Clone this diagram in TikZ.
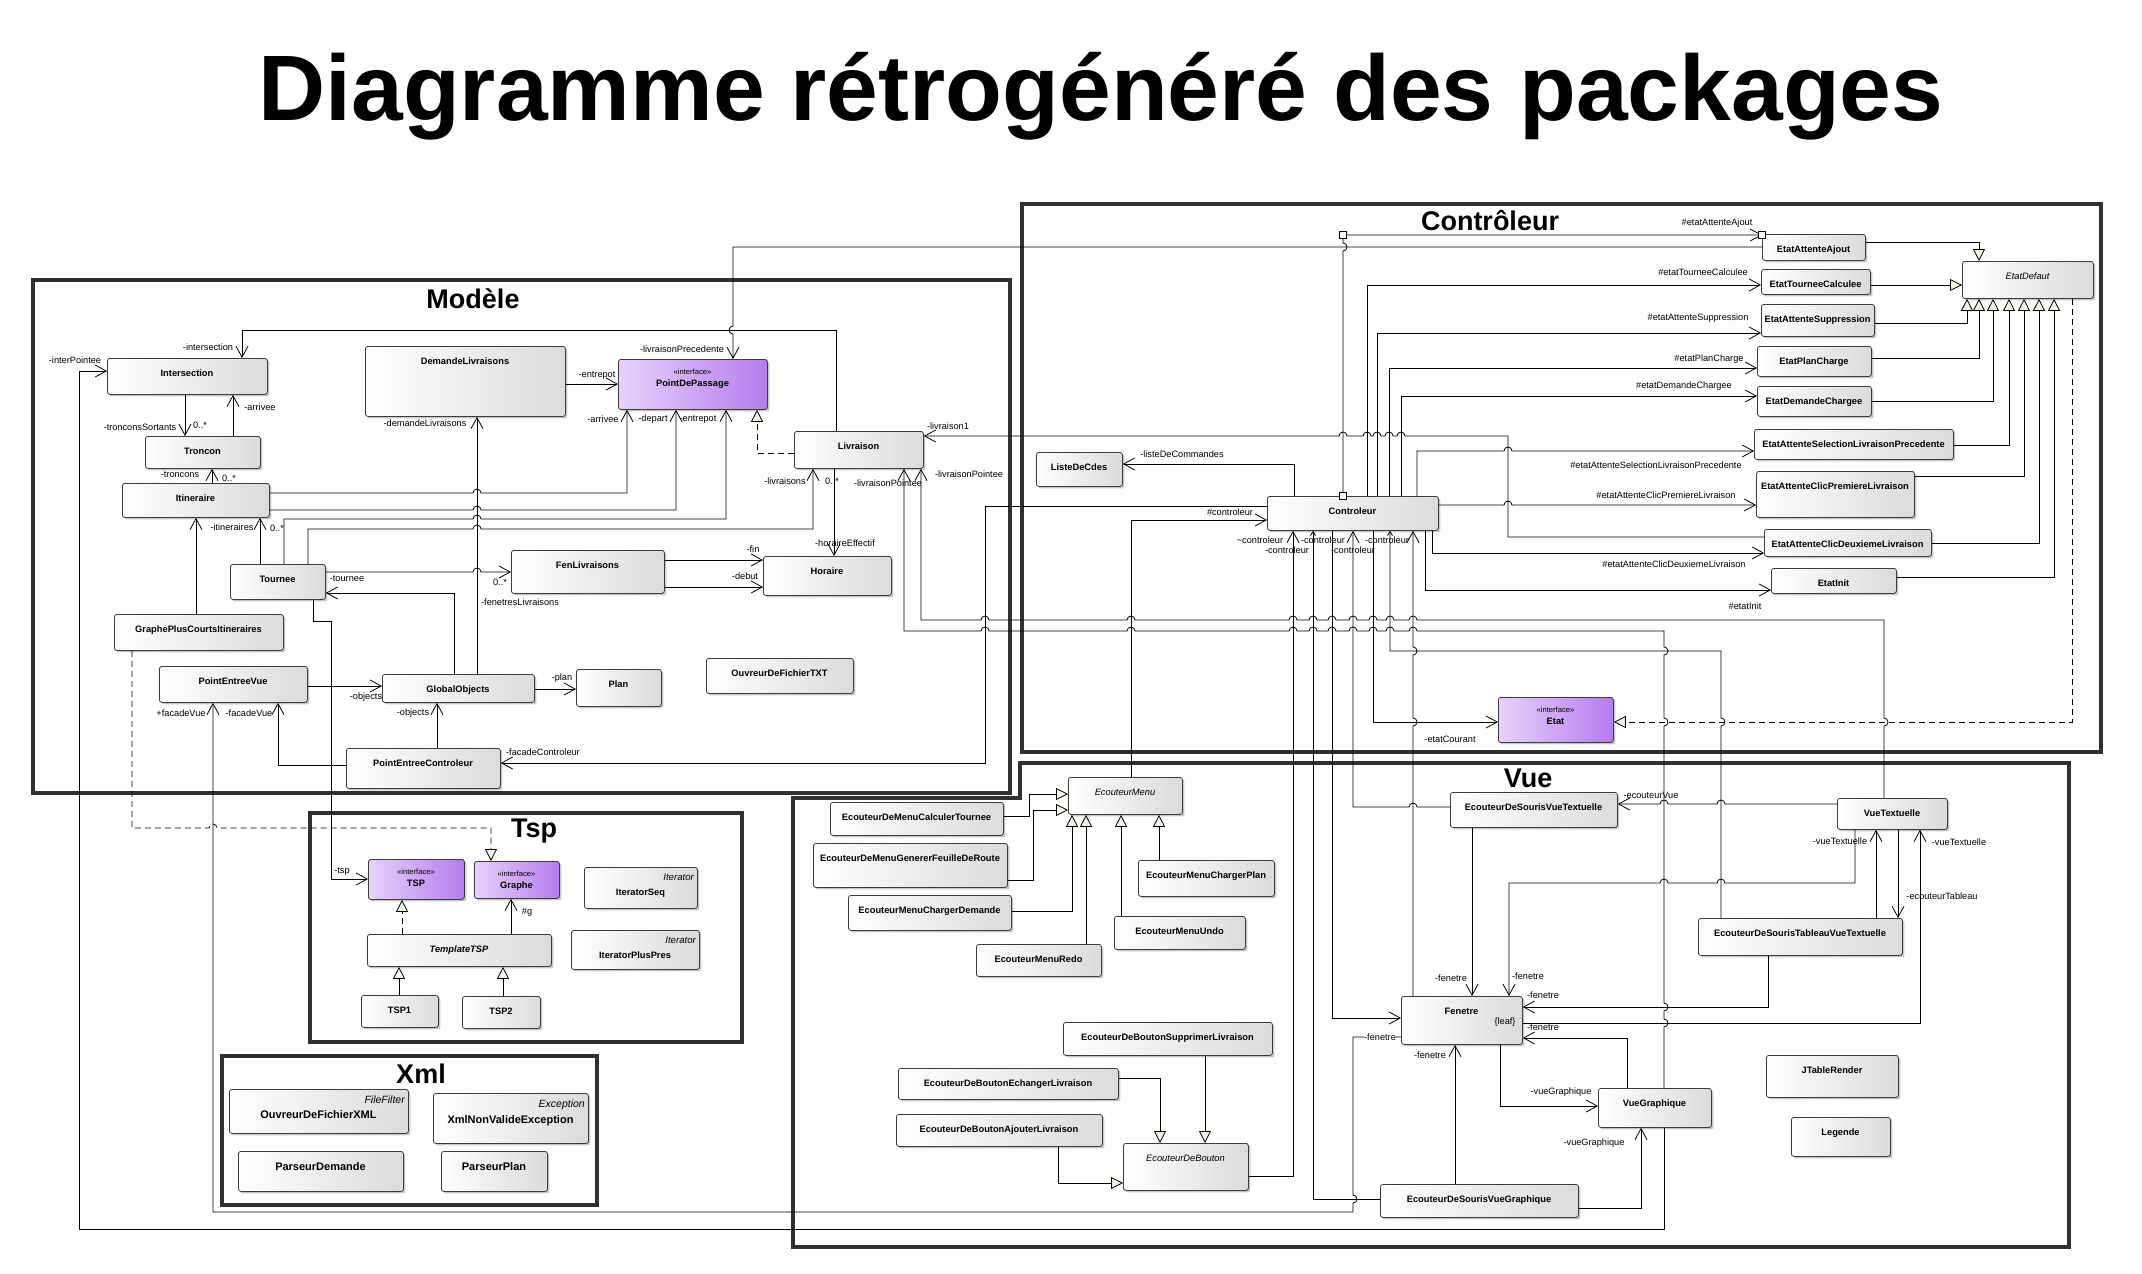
\documentclass[tikz,border=0pt]{standalone}
\usepackage{fontspec}
\setmainfont{Liberation Sans}
\usetikzlibrary{arrows.meta,shadows}
\definecolor{purL}{RGB}{230,210,252}
\definecolor{purR}{RGB}{182,124,238}
\definecolor{triF}{RGB}{244,241,232}
\definecolor{frameC}{RGB}{48,48,48}
\definecolor{boxB}{RGB}{60,60,60}
\newcounter{lbc}
\newcommand\hopR[2]{-- ({#1-4},#2) arc[start angle=180,end angle=0,radius=4pt]}
\newcommand\hopL[2]{-- ({#1+4},#2) arc[start angle=0,end angle=180,radius=4pt]}
\newcommand\hopD[2]{-- (#1,{#2-4}) arc[start angle=90,end angle=-90,radius=4pt]}
\newcommand\hopDl[2]{-- (#1,{#2-4}) arc[start angle=90,end angle=270,radius=4pt]}
\newcommand\hopU[2]{-- (#1,{#2+4}) arc[start angle=-90,end angle=90,radius=4pt]}
\newcommand\cls[7][cname]{%
  \node[box,minimum width={#5-#3},minimum height={#6-#4}] (#2) at (#3,#4) {};
  \node[#1] (#2-t) at ({(#3+#5)/2},{#4+18}) {#7};}
\newcommand\intf[6]{%
  \node[ibox,minimum width={#4-#2},minimum height={#5-#3}] (#1) at (#2,#3) {};
  \node[ster] (#1-s) at ({(#2+#4)/2},{#3+15}) {«interface»};
  \node[cname] (#1-t) at ({(#2+#4)/2},{#3+27}) {#6};}
\newcommand\lb[4][]{\stepcounter{lbc}\node[lbl,#1] (lab\arabic{lbc}) at (#2,#3) {#4};}
\tikzset{
 box/.style={draw=boxB, line width=0.8pt, rounded corners=2.5pt, anchor=north west, inner sep=0pt,
   left color=white, right color=black!14,
   drop shadow={shadow xshift=2pt, shadow yshift=-2pt, opacity=0.22, fill=black}},
 ibox/.style={box, left color=purL, right color=purR},
 cname/.style={anchor=base, inner sep=0pt, font=\fontsize{9.3}{11}\selectfont\bfseries},
 cital/.style={anchor=base, inner sep=0pt, font=\fontsize{9.3}{11}\selectfont\itshape},
 citalb/.style={anchor=base, inner sep=0pt, font=\fontsize{9.3}{11}\selectfont\bfseries\itshape},
 lbl/.style={inner sep=0.5pt, font=\fontsize{9.2}{10}\selectfont},
 ster/.style={anchor=base, inner sep=0pt, font=\fontsize{7.6}{9}\selectfont},
 pframe/.style={draw=frameC, line width=3.2pt},
 ptitle/.style={anchor=base, inner sep=0pt, font=\fontsize{27}{30}\selectfont\bfseries},
 conn/.style={draw=black, line width=0.8pt},
 assoc/.style={conn, -{Straight Barb[length=11pt,width=12pt]}},
 sassoc/.style={conn, -{Straight Barb[length=4pt,width=5pt]}},
 gen/.style={conn, -{Triangle[length=12pt,width=12pt,fill=triF]}},
 real/.style={gen, dash pattern=on 6pt off 4pt},
 sq/.style={draw, fill=white, line width=0.8pt, minimum size=7pt, inner sep=0pt},
}
\begin{document}
\begin{tikzpicture}[x=1pt,y=-1pt]
\useasboundingbox (0,0) rectangle (2142,1274);
\fill[white] (0,0) rectangle (2142,1274);
\node[anchor=base, inner sep=0pt, font=\fontsize{93}{100}\selectfont\bfseries] (title) at (1101,120) {Diagramme rétrogénéré des packages};

% ---------- package frames ----------
\draw[pframe] (33,280) rectangle (1010,793);
\draw[pframe] (1022,204) rectangle (2101,752);
\draw[pframe] (793,798) -- (1020,798) -- (1020,763) -- (2069,763) -- (2069,1247) -- (793,1247) -- cycle;
\draw[pframe] (310,813) rectangle (742,1042);
\draw[pframe] (222,1056) rectangle (597,1205);
\node[ptitle] (tModele) at (473,308) {Modèle};
\node[ptitle] (tControleur) at (1490,230) {Contrôleur};
\node[ptitle] (tVue) at (1528,787) {Vue};
\node[ptitle] (tTsp) at (534,837) {Tsp};
\node[ptitle] (tXml) at (421,1083) {Xml};

% ---------- classes : Modele ----------
\cls{Intersection}{107}{358}{267}{394}{Intersection}
\cls{DemandeLivraisons}{365}{346}{565}{416}{DemandeLivraisons}
\intf{PointDePassage}{618}{359}{767}{409}{PointDePassage}
\cls{Troncon}{145}{436}{260}{468}{Troncon}
\cls{Livraison}{794}{431}{923}{468}{Livraison}
\cls{Itineraire}{122}{483}{269}{517}{Itineraire}
\cls{Tournee}{230}{564}{325}{599}{Tournee}
\cls{FenLivraisons}{511}{550}{664}{593}{FenLivraisons}
\cls{Horaire}{763}{556}{891}{595}{Horaire}
\cls{GraphePCI}{114}{614}{283}{650}{GraphePlusCourtsItineraires}
\cls{PointEntreeVue}{159}{666}{307}{702}{PointEntreeVue}
\cls{GlobalObjects}{382}{674}{534}{702}{GlobalObjects}
\cls{Plan}{576}{669}{661}{706}{Plan}
\cls{OuvreurTXT}{706}{658}{853}{693}{OuvreurDeFichierTXT}
\cls{PointEntreeControleur}{346}{748}{500}{788}{PointEntreeControleur}

% ---------- classes : Controleur ----------
\cls{ListeDeCdes}{1036}{452}{1122}{486}{ListeDeCdes}
\cls{Controleur}{1267}{496}{1438}{530}{Controleur}
\cls{EtatAttenteAjout}{1762}{234}{1865}{260}{EtatAttenteAjout}
\cls{EtatTourneeCalculee}{1761}{269}{1870}{294}{EtatTourneeCalculee}
\cls{EtatAttenteSuppression}{1761}{304}{1874}{336}{EtatAttenteSuppression}
\cls{EtatPlanCharge}{1757}{346}{1871}{376}{EtatPlanCharge}
\cls{EtatDemandeChargee}{1757}{386}{1871}{416}{EtatDemandeChargee}
\cls{EtatASLP}{1754}{429}{1953}{459}{EtatAttenteSelectionLivraisonPrecedente}
\cls{EtatACPL}{1756}{471}{1914}{517}{EtatAttenteClicPremiereLivraison}
\cls{EtatACDL}{1764}{529}{1931}{556}{EtatAttenteClicDeuxiemeLivraison}
\cls{EtatInit}{1771}{568}{1896}{593}{EtatInit}
\cls[cital]{EtatDefaut}{1962}{261}{2093}{298}{EtatDefaut}
\intf{Etat}{1498}{697}{1613}{742}{Etat}

% ---------- classes : Vue ----------
\cls[cital]{EcouteurMenu}{1068}{777}{1182}{814}{EcouteurMenu}
\cls{ECalc}{830}{802}{1003}{835}{EcouteurDeMenuCalculerTournee}
\cls{EGen}{813}{843}{1007}{887}{EcouteurDeMenuGenererFeuilleDeRoute}
\cls{EChDem}{848}{895}{1011}{930}{EcouteurMenuChargerDemande}
\cls{ERedo}{976}{944}{1101}{976}{EcouteurMenuRedo}
\cls{EUndo}{1114}{916}{1245}{949}{EcouteurMenuUndo}
\cls{EChPlan}{1138}{860}{1274}{896}{EcouteurMenuChargerPlan}
\cls{ESupp}{1063}{1022}{1272}{1055}{EcouteurDeBoutonSupprimerLivraison}
\cls{EEch}{898}{1068}{1118}{1099}{EcouteurDeBoutonEchangerLivraison}
\cls{EAjout}{896}{1114}{1102}{1146}{EcouteurDeBoutonAjouterLivraison}
\cls[cital]{EcouteurDeBouton}{1123}{1143}{1248}{1190}{EcouteurDeBouton}
\cls{EDSVT}{1450}{792}{1617}{827}{EcouteurDeSourisVueTextuelle}
\cls{VueTextuelle}{1837}{798}{1947}{829}{VueTextuelle}
\cls{EDSTVT}{1698}{918}{1902}{955}{EcouteurDeSourisTableauVueTextuelle}
\cls{Fenetre}{1401}{996}{1522}{1044}{Fenetre}
\node[lbl] (leaf) at (1505,1022) {\{leaf\}};
\cls{VueGraphique}{1598}{1088}{1711}{1127}{VueGraphique}
\cls{JTableRender}{1766}{1055}{1898}{1097}{JTableRender}
\cls{Legende}{1791}{1117}{1890}{1156}{Legende}
\cls{EDSVG}{1380}{1184}{1578}{1217}{EcouteurDeSourisVueGraphique}

% ---------- classes : Tsp ----------
\intf{TSP}{368}{859}{464}{899}{TSP}
\intf{Graphe}{474}{861}{559}{898}{Graphe}
\node[box,minimum width=113,minimum height=41] (IteratorSeq) at (584,867) {};
\node[ster,anchor=base east,font=\fontsize{9.6}{11}\selectfont\itshape] (IteratorSeq-s) at (694,880) {Iterator};
\node[cname] (IteratorSeq-t) at (640.5,895) {IteratorSeq};
\node[box,minimum width=128,minimum height=39] (IteratorPlusPres) at (571,930) {};
\node[ster,anchor=base east,font=\fontsize{9.6}{11}\selectfont\itshape] (IteratorPlusPres-s) at (696,943) {Iterator};
\node[cname] (IteratorPlusPres-t) at (635,958) {IteratorPlusPres};
\cls[citalb]{TemplateTSP}{367}{934}{551}{966}{TemplateTSP}
\cls{TSP1}{361}{995}{438}{1027}{TSP1}
\cls{TSP2}{462}{996}{540}{1028}{TSP2}

% ---------- classes : Xml ----------
\node[box,minimum width=179,minimum height=44] (OuvreurXML) at (229,1089) {};
\node[ster,anchor=base east,font=\fontsize{10.5}{12}\selectfont\itshape] (OuvreurXML-s) at (405,1103) {FileFilter};
\node[cname,font=\fontsize{11}{13}\selectfont\bfseries] (OuvreurXML-t) at (318.5,1118) {OuvreurDeFichierXML};
\node[box,minimum width=155,minimum height=50] (XmlNVE) at (433,1093) {};
\node[ster,anchor=base east,font=\fontsize{10.5}{12}\selectfont\itshape] (XmlNVE-s) at (585,1107) {Exception};
\node[cname,font=\fontsize{11}{13}\selectfont\bfseries] (XmlNVE-t) at (510.5,1123) {XmlNonValideException};
\node[box,minimum width=165,minimum height=40] (ParseurDemande) at (238,1151) {};
\node[cname,font=\fontsize{11}{13}\selectfont\bfseries] (ParseurDemande-t) at (320.5,1170) {ParseurDemande};
\node[box,minimum width=106,minimum height=40] (ParseurPlan) at (441,1151) {};
\node[cname,font=\fontsize{11}{13}\selectfont\bfseries] (ParseurPlan-t) at (494,1170) {ParseurPlan};

% ---------- connectors : Modele ----------
\draw[assoc] (Livraison.north -| 836,0) -- (836,330) -- (242,330) -- (Intersection.north -| 242,0);
\draw[assoc] (EtatAttenteAjout.west |- 0,247) -- (733,247) \hopDl{733}{330} -- (PointDePassage.north -| 733,0);
\draw[assoc] (DemandeLivraisons.east |- 0,384) -- (PointDePassage.west |- 0,384);
\draw[assoc] (Itineraire.east |- 0,493) \hopR{477}{493} -- (627,493) -- (PointDePassage.south -| 627,0);
\draw[assoc] (Itineraire.east |- 0,510) \hopR{477}{510} -- (676,510) -- (PointDePassage.south -| 676,0);
\draw[assoc] (Tournee.north -| 284,0) -- (284,519) \hopR{477}{519} -- (726,519) -- (PointDePassage.south -| 726,0);
\draw[assoc] (Tournee.north -| 308,0) -- (308,529) \hopR{477}{529} -- (813,529) -- (Livraison.south -| 813,0);
\draw[assoc] (Tournee.north -| 260,0) -- (Itineraire.south -| 260,0);
\draw[assoc] (GraphePCI.north -| 196,0) -- (Itineraire.south -| 196,0);
\draw[assoc] (Itineraire.north -| 212,0) -- (Troncon.south -| 212,0);
\draw[assoc] (Intersection.south -| 185,0) -- (Troncon.north -| 185,0);
\draw[assoc] (Troncon.north -| 233,0) -- (Intersection.south -| 233,0);
\draw[assoc] (VueGraphique.south -| 1664,0) -- (1664,1229) -- (79,1229) -- (79,371) -- (Intersection.west |- 0,371);
\draw[assoc] (Fenetre.west |- 0,1037) -- (1353,1037) \hopD{1353}{1199} -- (1353,1212) -- (213,1212) -- (PointEntreeVue.south -| 213,0);
\draw[assoc] (PointEntreeControleur.west |- 0,765) -- (278,765) -- (PointEntreeVue.south -| 278,0);
\draw[assoc] (PointEntreeVue.east |- 0,686) -- (GlobalObjects.west |- 0,686);
\draw[assoc] (PointEntreeControleur.north -| 437,0) -- (GlobalObjects.south -| 437,0);
\draw[assoc] (GlobalObjects.east |- 0,689) -- (Plan.west |- 0,689);
\draw[assoc] (GlobalObjects.north -| 477,0) -- (DemandeLivraisons.south -| 477,0);
\draw[assoc] (GlobalObjects.north -| 454,0) -- (454,593) -- (Tournee.east |- 0,593);
\draw[assoc] (Tournee.east |- 0,572) \hopR{477}{572} -- (FenLivraisons.west |- 0,572);
\draw[assoc] (FenLivraisons.east |- 0,560) -- (Horaire.west |- 0,560);
\draw[assoc] (FenLivraisons.east |- 0,587) -- (Horaire.west |- 0,587);
\draw[assoc] (Livraison.south -| 834,0) -- (Horaire.north -| 834,0);
\draw[real] (Livraison.west |- 0,453) -- (757,453) -- (PointDePassage.south -| 757,0);
\draw[assoc] (Controleur.west |- 0,506) -- (985,506) -- (985,763) -- (PointEntreeControleur.east |- 0,763);

% ---------- connectors : long ones through Controleur ----------
\draw[assoc] (VueTextuelle.north -| 1884,0) \hopU{1884}{722} -- (1884,620) \hopL{1413}{620} \hopL{1390}{620} \hopL{1373}{620} \hopL{1353}{620} \hopL{1332}{620} \hopL{1313}{620} \hopL{1293}{620} \hopL{1131}{620} \hopL{985}{620} -- (921,620) -- (Livraison.south -| 921,0);
\draw[assoc] (VueGraphique.north -| 1664,0) \hopU{1664}{1023} \hopU{1664}{1007} \hopU{1664}{722} \hopU{1664}{651} -- (1664,631) \hopL{1413}{631} \hopL{1390}{631} \hopL{1373}{631} \hopL{1353}{631} \hopL{1332}{631} \hopL{1313}{631} \hopL{1293}{631} \hopL{1131}{631} \hopL{985}{631} -- (904,631) -- (Livraison.south -| 904,0);
\draw[sassoc] (EDSTVT.north -| 1721,0) \hopU{1721}{722} -- (1721,651) -- (1390,651) -- (Controleur.south -| 1390,0);
\draw[assoc] (EcouteurMenu.north -| 1131,0) -- (1131,520) -- (Controleur.west |- 0,520);
\draw[assoc] (EcouteurDeBouton.east |- 0,1176) -- (1293,1176) -- (Controleur.south -| 1293,0);
\draw[sassoc] (EDSVG.west |- 0,1199) -- (1313,1199) -- (Controleur.south -| 1313,0);
\draw[assoc] (Controleur.south -| 1332,0) -- (1332,1018) -- (Fenetre.west |- 0,1018);
\draw[assoc] (EDSVT.west |- 0,807) \hopL{1413}{807} -- (1353,807) -- (Controleur.south -| 1353,0);
\draw[assoc] (Controleur.south -| 1373,0) -- (1373,722) -- (Etat.west |- 0,722);
\draw[assoc] (Fenetre.north -| 1413,0) \hopU{1413}{722} \hopU{1413}{651} -- (Controleur.south -| 1413,0);
\draw[assoc] (Controleur.south -| 1425,0) -- (1425,590) -- (EtatInit.west |- 0,590);
\draw[assoc] (Controleur.south -| 1432,0) -- (1432,553) -- (EtatACDL.west |- 0,553);
\draw[assoc] (EtatACDL.west |- 0,537) -- (1508,537) -- (1508,436) \hopL{1401}{436} \hopL{1389}{436} \hopL{1377}{436} \hopL{1367}{436} \hopL{1343}{436} -- (Livraison.east |- 0,436);
\draw[assoc] (Controleur.east |- 0,505) \hopR{1508}{505} -- (EtatACPL.west |- 0,505);
\draw[assoc] (Controleur.north -| 1417,0) -- (1417,451) \hopR{1508}{451} -- (EtatASLP.west |- 0,451);
\draw[assoc] (Controleur.north -| 1401,0) -- (1401,396) -- (EtatDemandeChargee.west |- 0,396);
\draw[assoc] (Controleur.north -| 1389,0) -- (1389,368) -- (EtatPlanCharge.west |- 0,368);
\draw[assoc] (Controleur.north -| 1377,0) -- (1377,333) -- (EtatAttenteSuppression.west |- 0,333);
\draw[assoc] (Controleur.north -| 1367,0) -- (1367,285) -- (EtatTourneeCalculee.west |- 0,285);
\draw[assoc] (Controleur.north -| 1343,0) \hopU{1343}{247} -- (1343,235) -- (EtatAttenteAjout.west |- 0,235);
\draw[assoc] (Controleur.north -| 1294,0) -- (1294,464) -- (ListeDeCdes.east |- 0,464);

% ---------- generalisations Etat ----------
\draw[gen] (EtatAttenteAjout.east |- 0,242) -- (1979,242) -- (EtatDefaut.north -| 1979,0);
\draw[gen] (EtatTourneeCalculee.east |- 0,285) -- (EtatDefaut.west |- 0,285);
\draw[gen] (EtatAttenteSuppression.east |- 0,323) -- (1967,323) -- (EtatDefaut.south -| 1967,0);
\draw[gen] (EtatPlanCharge.east |- 0,358) -- (1979,358) -- (EtatDefaut.south -| 1979,0);
\draw[gen] (EtatDemandeChargee.east |- 0,401) -- (1993,401) -- (EtatDefaut.south -| 1993,0);
\draw[gen] (EtatASLP.east |- 0,445) -- (2009,445) -- (EtatDefaut.south -| 2009,0);
\draw[gen] (EtatACPL.east |- 0,476) -- (2024,476) -- (EtatDefaut.south -| 2024,0);
\draw[gen] (EtatACDL.east |- 0,543) -- (2039,543) -- (EtatDefaut.south -| 2039,0);
\draw[gen] (EtatInit.east |- 0,577) -- (2054,577) -- (EtatDefaut.south -| 2054,0);
\draw[real] (EtatDefaut.south -| 2072,0) -- (2072,722) -- (Etat.east |- 0,722);

% ---------- connectors : Vue ----------
\draw[gen] (ECalc.east |- 0,816) -- (1029,816) -- (1029,794) -- (EcouteurMenu.west |- 0,794);
\draw[gen] (EGen.east |- 0,880) -- (1033,880) -- (1033,810) -- (EcouteurMenu.west |- 0,810);
\draw[gen] (EChDem.east |- 0,911) -- (1072,911) -- (EcouteurMenu.south -| 1072,0);
\draw[gen] (ERedo.north -| 1086,0) -- (EcouteurMenu.south -| 1086,0);
\draw[gen] (EUndo.north -| 1121,0) -- (EcouteurMenu.south -| 1121,0);
\draw[gen] (EChPlan.north -| 1159,0) -- (EcouteurMenu.south -| 1159,0);
\draw[gen] (ESupp.south -| 1205,0) -- (EcouteurDeBouton.north -| 1205,0);
\draw[gen] (EEch.east |- 0,1078) -- (1160,1078) -- (EcouteurDeBouton.north -| 1160,0);
\draw[gen] (EAjout.south -| 1058,0) -- (1058,1183) -- (EcouteurDeBouton.west |- 0,1183);
\draw[assoc] (VueTextuelle.west |- 0,804) \hopL{1721}{804} \hopL{1664}{804} -- (EDSVT.east |- 0,804);
\draw[assoc] (EDSVT.south -| 1472,0) -- (Fenetre.north -| 1472,0);
\draw[assoc] (VueTextuelle.south -| 1855,0) -- (1855,883) \hopL{1721}{883} \hopL{1664}{883} -- (1509,883) -- (Fenetre.north -| 1509,0);
\draw[assoc] (EDSTVT.north -| 1876,0) -- (VueTextuelle.south -| 1876,0);
\draw[assoc] (VueTextuelle.south -| 1898,0) -- (EDSTVT.north -| 1898,0);
\draw[assoc] (Fenetre.east |- 0,1023) -- (1920,1023) -- (VueTextuelle.south -| 1920,0);
\draw[assoc] (EDSTVT.south -| 1768,0) -- (1768,1007) -- (Fenetre.east |- 0,1007);
\draw[assoc] (VueGraphique.north -| 1627,0) -- (1627,1038) -- (Fenetre.east |- 0,1038);
\draw[assoc] (Fenetre.south -| 1500,0) -- (1500,1106) -- (VueGraphique.west |- 0,1106);
\draw[assoc] (EDSVG.north -| 1455,0) -- (Fenetre.south -| 1455,0);
\draw[assoc] (EDSVG.east |- 0,1208) -- (1641,1208) -- (VueGraphique.south -| 1641,0);

% ---------- connectors : Tsp ----------
\draw[assoc] (Tournee.south -| 313,0) -- (313,621) -- (331,621) -- (331,879) -- (TSP.west |- 0,879);
\draw[real] (GraphePCI.south -| 132,0) -- (132,828) \hopR{213}{828} -- (491,828) -- (Graphe.north -| 491,0);
\draw[real] (TemplateTSP.north -| 402,0) -- (TSP.south -| 402,0);
\draw[assoc] (TemplateTSP.north -| 511,0) -- (Graphe.south -| 511,0);
\draw[gen] (TSP1.north -| 399,0) -- (TemplateTSP.south -| 399,0);
\draw[gen] (TSP2.north -| 503,0) -- (TemplateTSP.south -| 503,0);

% ---------- waypoint squares ----------
\node[sq] (sqA) at (1343,235) {};
\node[sq] (sqB) at (1762,235) {};
\node[sq] (sqC) at (1343,496) {};

% ---------- role labels ----------
\lb{208}{347}{-intersection}
\lb{75}{360}{-interPointee}
\lb{140}{427}{-tronconsSortants}
\lb{200}{425}{0..*}
\lb{260}{407}{-arrivee}
\lb{180}{475}{-troncons}
\lb{229}{478}{0..*}
\lb{232}{527}{-itineraires}
\lb{277}{528}{0..*}
\lb{347}{579}{-tournee}
\lb{500}{582}{0..*}
\lb{520}{602}{-fenetresLivraisons}
\lb{425}{423}{-demandeLivraisons}
\lb{366}{697}{-objects}
\lb{413}{713}{-objects}
\lb{181}{713}{+facadeVue}
\lb{249}{713}{-facadeVue}
\lb{597}{375}{-entrepot}
\lb{603}{419}{-arrivee}
\lb{653}{419}{-depart}
\lb{698}{419}{-entrepot}
\lb{682}{349}{-livraisonPrecedente}
\lb{785}{481}{-livraisons}
\lb{832}{481}{0..*}
\lb{845}{543}{-horaireEffectif}
\lb{888}{483}{-livraisonPointee}
\lb{969}{474}{-livraisonPointee}
\lb{948}{426}{-livraison1}
\lb{753}{549}{-fin}
\lb{745}{576}{-debut}
\lb{562}{678}{-plan}
\lb{543}{752}{-facadeControleur}
\lb{1182}{454}{-listeDeCommandes}
\lb{1230}{512}{\#controleur}
\lb{1260}{540}{\textasciitilde controleur}
\lb{1287}{550}{-controleur}
\lb{1323}{540}{-controleur}
\lb{1353}{550}{-controleur}
\lb{1387}{540}{-controleur}
\lb{1450}{739}{-etatCourant}
\lb{1717}{223}{\#etatAttenteAjout}
\lb{1703}{272}{\#etatTourneeCalculee}
\lb{1698}{318}{\#etatAttenteSuppression}
\lb{1709}{359}{\#etatPlanCharge}
\lb{1684}{386}{\#etatDemandeChargee}
\lb{1656}{465}{\#etatAttenteSelectionLivraisonPrecedente}
\lb{1666}{495}{\#etatAttenteClicPremiereLivraison}
\lb{1674}{564}{\#etatAttenteClicDeuxiemeLivraison}
\lb{1745}{606}{\#etatInit}
\lb{1651}{795}{-ecouteurVue}
\lb{1451}{978}{-fenetre}
\lb{1528}{976}{-fenetre}
\lb{1840}{841}{-vueTextuelle}
\lb{1959}{842}{-vueTextuelle}
\lb{1942}{896}{-ecouteurTableau}
\lb{1543}{995}{-fenetre}
\lb{1543}{1027}{-fenetre}
\lb{1561}{1092}{-vueGraphique}
\lb{1430}{1055}{-fenetre}
\lb{1594}{1143}{-vueGraphique}
\lb[fill=white]{1380}{1037}{-fenetre}
\lb{342}{871}{-tsp}
\lb{527}{912}{\#g}
\end{tikzpicture}
\end{document}
